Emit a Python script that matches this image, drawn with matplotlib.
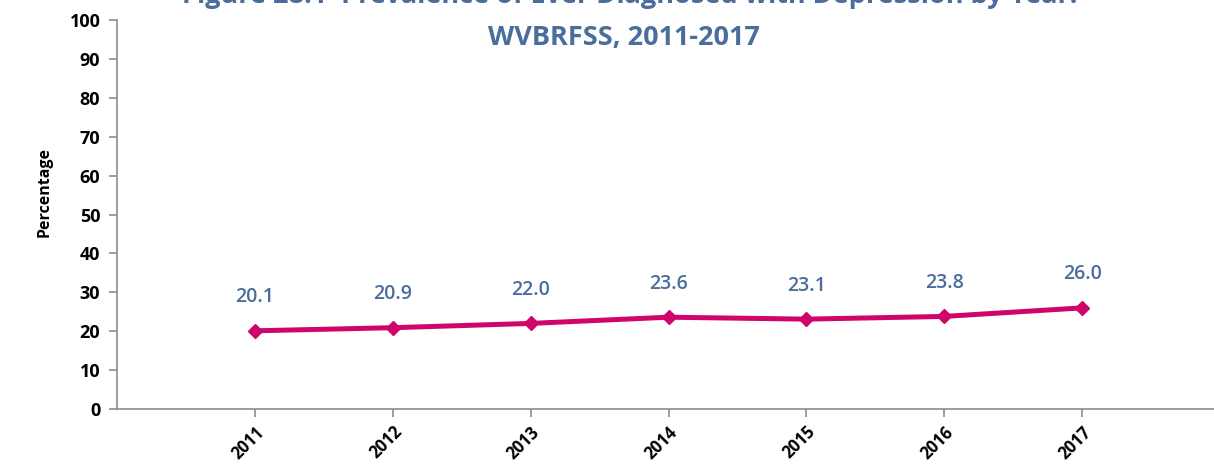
import matplotlib.pyplot as plt
import numpy as np

years = ['2011', '2012', '2013', '2014', '2015', '2016', '2017']
prevalence = [20.1, 20.9, 22.0, 23.6, 23.1, 23.8, 26.0]

title_color = '#4a6d9c'
line_color = '#d0056c'
axis_color = '#8c8c8c'

plt.rcParams['font.family'] = ['Open Sans', 'DejaVu Sans']

fig = plt.figure(figsize=(12.14, 4.70), dpi=100)
ax = fig.add_axes([117 / 1214, 61 / 470, (1220 - 117) / 1214, 389 / 470])

x = np.arange(1, len(years) + 1)
ax.plot(x, prevalence, color=line_color, linewidth=3.6, marker='D',
        markersize=7.5, markerfacecolor=line_color, markeredgecolor=line_color,
        solid_capstyle='round', zorder=3)

# value labels above each point
for xi, v in zip(x, prevalence):
    ax.annotate('{:.1f}'.format(v), xy=(xi, v), xytext=(0, 17),
                textcoords='offset points', ha='center', va='bottom',
                fontsize=14, fontweight='semibold', color=title_color)

ax.set_xlim(0, len(years) + 1)
ax.set_ylim(0, 100)
ax.set_yticks(range(0, 101, 10))
ax.set_xticks(x)
ax.set_xticklabels(years, rotation=45, ha='right', rotation_mode='anchor',
                   fontsize=12, fontweight='bold')
for lbl in ax.get_yticklabels():
    lbl.set_fontsize(13)
    lbl.set_fontweight('bold')

for side in ['top', 'right']:
    ax.spines[side].set_visible(False)
for side in ['left', 'bottom']:
    ax.spines[side].set_color(axis_color)
    ax.spines[side].set_linewidth(1.2)
ax.tick_params(axis='both', direction='out', length=6, color=axis_color,
               width=1.2, pad=6)
ax.tick_params(axis='x', pad=4)

fig.text(45 / 1214, 1 - 192 / 470, 'Percentage', rotation=90, ha='center',
         va='center', fontsize=11.5, fontweight='bold')

fig.text(624 / 1214, 1 - 38 / 470, 'WVBRFSS, 2011-2017', ha='center',
         va='center', fontsize=19.5, fontweight='bold', color=title_color)
fig.text(630 / 1214, 1 + 4 / 470,
         'Figure 28.1  Prevalence of Ever Diagnosed with Depression by Year:',
         ha='center', va='center', fontsize=19.5, fontweight='bold',
         color=title_color)

fig.savefig('out.png', dpi=100)
